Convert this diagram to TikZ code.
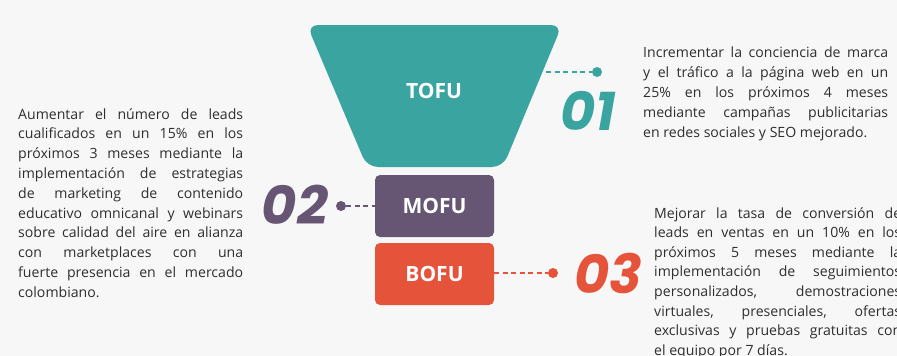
\documentclass[tikz,border=0pt]{standalone}
\usepackage{fontspec}
\setmainfont{Open Sans}
\newfontfamily\numfont{Poppins}
\definecolor{bg}{HTML}{F7F7F7}
\definecolor{txt}{HTML}{2E2E2E}
\definecolor{teal}{HTML}{3AA5A0}
\definecolor{plum}{HTML}{675574}
\definecolor{coral}{HTML}{E6533B}
\begin{document}
\begin{tikzpicture}[x=1pt,y=-1pt,
  body/.style={anchor=base west, inner sep=0pt, text=txt, font=\fontsize{14.1}{16}\selectfont},
  stage/.style={text=white, font=\fontsize{21}{24}\selectfont\bfseries, inner sep=0pt},
  stagebox/.style={rounded corners=5pt, minimum width=119pt, minimum height=62pt, inner sep=0pt},
  num/.style={font=\numfont\fontsize{54}{60}\selectfont\bfseries\itshape, inner sep=0pt},
  link/.style={dash pattern=on 5pt off 3.5pt, line width=1.7pt},
  dotmark/.style={circle, fill, inner sep=0pt, minimum size=10pt}]
\useasboundingbox (0,0) rectangle (897,356);
\fill[bg] (0,0) rectangle (897,356);
\clip (0,0) rectangle (897,356);

% funnel top
\fill[teal, rounded corners=11pt] (307,25) -- (562,25) -- (503,167) -- (367,167) -- cycle;
\node[stage] (tofu) at (434,91) {TOFU};
\coordinate (t1) at (546,72);
\node[dotmark, teal] (d1) at (597,72) {};
\draw[link, teal] (t1) -- (d1);
\node[num, text=teal] (n1) at (588,111) {01};

% MOFU
\node[stagebox, fill=plum] (mofu) at (434.5,206) {};
\node[stage] at (mofu) {MOFU};
\node[dotmark, plum] (d2) at (341,206) {};
\draw[link, plum] (d2) -- (mofu.west);
\node[num, text=plum] (n2) at (295,205) {02};

% BOFU
\node[stagebox, fill=coral] (bofu) at (434.5,274) {};
\node[stage] at (bofu) {BOFU};
\node[dotmark, coral] (d3) at (553,273) {};
\draw[link, coral] (bofu.east |- d3) -- (d3);
\node[num, text=coral] (n3) at (608,273) {03};

% left text
\foreach \t [count=\i] in {{Aumentar el número de leads},{cualificados en un 15\% en los},{próximos 3 meses mediante la},{implementación de estrategias},{de marketing de contenido},{educativo omnicanal y webinars},{sobre calidad del aire en alianza},{con marketplaces con una},{fuerte presencia en el mercado}}
  \node[body] (l\i) at (18,119+19.8*\i-19.8) {\makebox[225pt][s]{\t}};
\node[body] (l10) at (18,119+19.8*9) {colombiano.};

% top right text
\foreach \t [count=\i] in {{Incrementar la conciencia de marca},{y el tráfico a la página web en un},{25\% en los próximos 4 meses},{mediante campañas publicitarias}}
  \node[body] (r\i) at (643,57.5+20*\i-20) {\makebox[245pt][s]{\t}};
\node[body] (r5) at (643,57.5+80) {en redes sociales y SEO mejorado.};

% bottom right text (cut off at the right and bottom edges, as in the reference)
\foreach \t [count=\i] in {{Mejorar la tasa de conversión de},{leads en ventas en un 10\% en los},{próximos 5 meses mediante la},{implementación de seguimientos},{personalizados, demostraciones},{virtuales, presenciales, ofertas},{exclusivas y pruebas gratuitas con}}
  \node[body] (b\i) at (654,218+19.6*\i-19.6) {\makebox[247pt][s]{\t}};
\node[body] (b8) at (654,218+19.6*7) {el equipo por 7 días.};
\end{tikzpicture}
\end{document}
